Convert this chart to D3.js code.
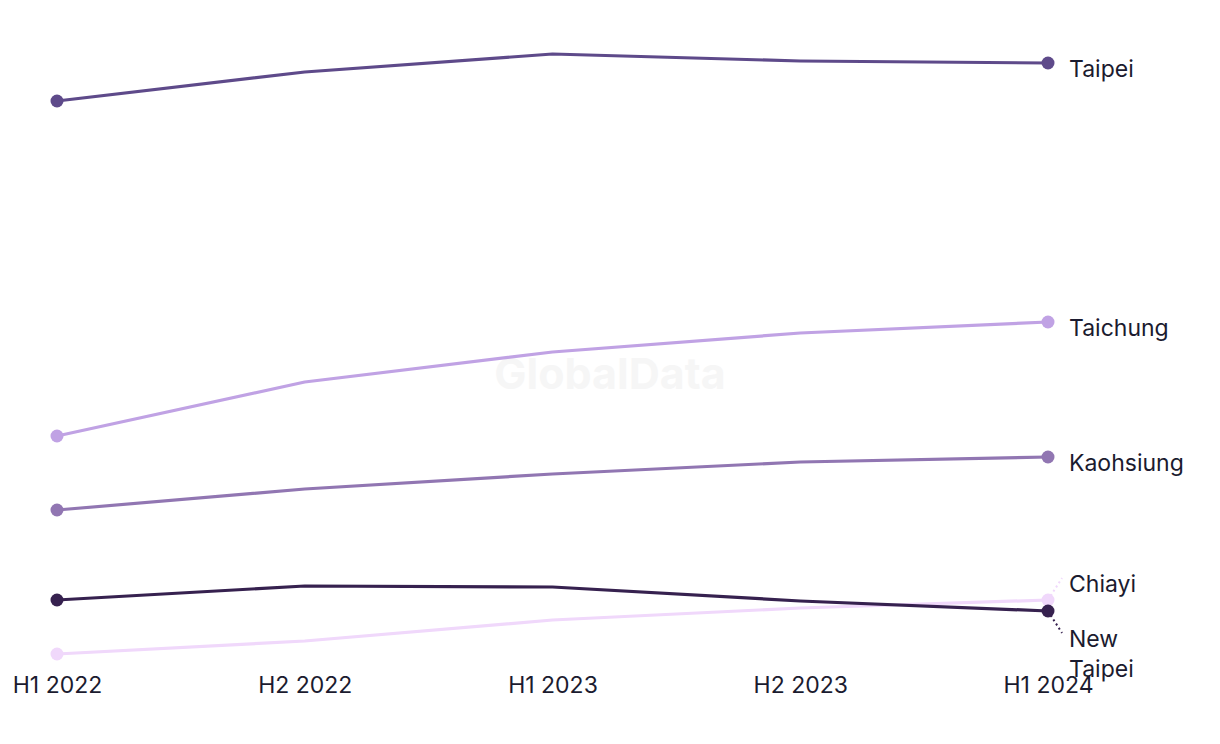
<!DOCTYPE html>
<html>
<head>
<meta charset="utf-8">
<script src="https://cdn.jsdelivr.net/npm/d3@7"></script>
<style>
  body { margin: 0; background: #fff; }
  svg { display: block; font-family: Inter, "Liberation Sans", sans-serif; }
</style>
</head>
<body>
<div id="chart"></div>
<script>
// periods on the x axis
var periods = ["H1 2022", "H2 2022", "H1 2023", "H2 2023", "H1 2024"];

// one array per city (index values)
var taipei     = [600, 629, 647, 640, 638];
var taichung   = [265, 319, 349, 368, 379];
var kaohsiung  = [191, 212, 227, 239, 244];
var newTaipei  = [101, 115, 114, 100, 90];
var chiayi     = [47, 60, 81, 93, 101];

var cities = ["Taipei", "Taichung", "Kaohsiung", "New Taipei", "Chiayi"];
var colors = ["#5e4a8a", "#c0a2e4", "#9176b2", "#36214f", "#f0d8fb"];

var series = [taipei, taichung, kaohsiung, newTaipei, chiayi].map(function(v, i) {
	return { name: cities[i], values: v, color: colors[i] };
});

var width = 1220, height = 744;

var svg = d3.select("#chart").append("svg")
	.attr("width", width)
	.attr("height", height);

var x = d3.scalePoint()
	.domain(periods)
	.range([57, 1048]);

var y = d3.scaleLinear()
	.domain([0, 700])
	.range([701, 1]);

// watermark
svg.append("text")
	.attr("x", 610)
	.attr("y", 389)
	.attr("text-anchor", "middle")
	.style("font-size", "43px")
	.style("font-weight", "bold")
	.style("fill", "#f6f6f6")
	.text("GlobalData");

// x axis labels
svg.append("g")
	.attr("transform", "translate(0,693)")
	.call(d3.axisBottom(x).tickSize(0).tickPadding(0))
	.call(function(g) { g.select(".domain").remove(); })
	.selectAll("text")
	.attr("dy", 0)
	.style("font-family", "Inter, 'Liberation Sans', sans-serif")
	.style("font-size", "23px")
	.style("fill", "#1b1b2f");

var line = d3.line()
	.x(function(d, i) { return x(periods[i]); })
	.y(function(d) { return y(d); });

// draw lines (lighter ones under darker ones as in the picture)
var order = [4, 1, 2, 0, 3];
order.forEach(function(k) {
	var s = series[k];
	svg.append("path")
		.datum(s.values)
		.attr("d", line)
		.attr("fill", "none")
		.attr("stroke", s.color)
		.attr("stroke-width", 3.2)
		.attr("stroke-linejoin", "round");
});

order.forEach(function(k) {
	var s = series[k];
	var first = 0, last = s.values.length - 1;
	[first, last].forEach(function(i) {
		svg.append("circle")
			.attr("cx", x(periods[i]))
			.attr("cy", y(s.values[i]))
			.attr("r", 6.5)
			.attr("fill", s.color);
	});
});

// end labels; the two close ones get a leader line
var labelOffset = { "Chiayi": -22, "New Taipei": 22 };
series.forEach(function(s) {
	var lx = x(periods[periods.length - 1]);
	var ly = y(s.values[s.values.length - 1]);
	var off = labelOffset[s.name] || 0;
	if (off) {
		svg.append("line")
			.attr("x1", lx).attr("y1", ly)
			.attr("x2", lx + 14).attr("y2", ly + off)
			.attr("stroke", s.color)
			.attr("stroke-width", 2)
			.attr("stroke-dasharray", "2,3");
	}
	var words = s.name == "New Taipei" ? ["New", "Taipei"] : [s.name];
	var t = svg.append("text")
		.attr("x", lx + 21)
		.attr("y", ly + off + 14)
		.style("font-size", "23px")
		.style("fill", "#1b1b2f");
	words.forEach(function(w, j) {
		t.append("tspan")
			.attr("x", lx + 21)
			.attr("dy", j == 0 ? 0 : 30)
			.text(w);
	});
});
</script>
</body>
</html>
